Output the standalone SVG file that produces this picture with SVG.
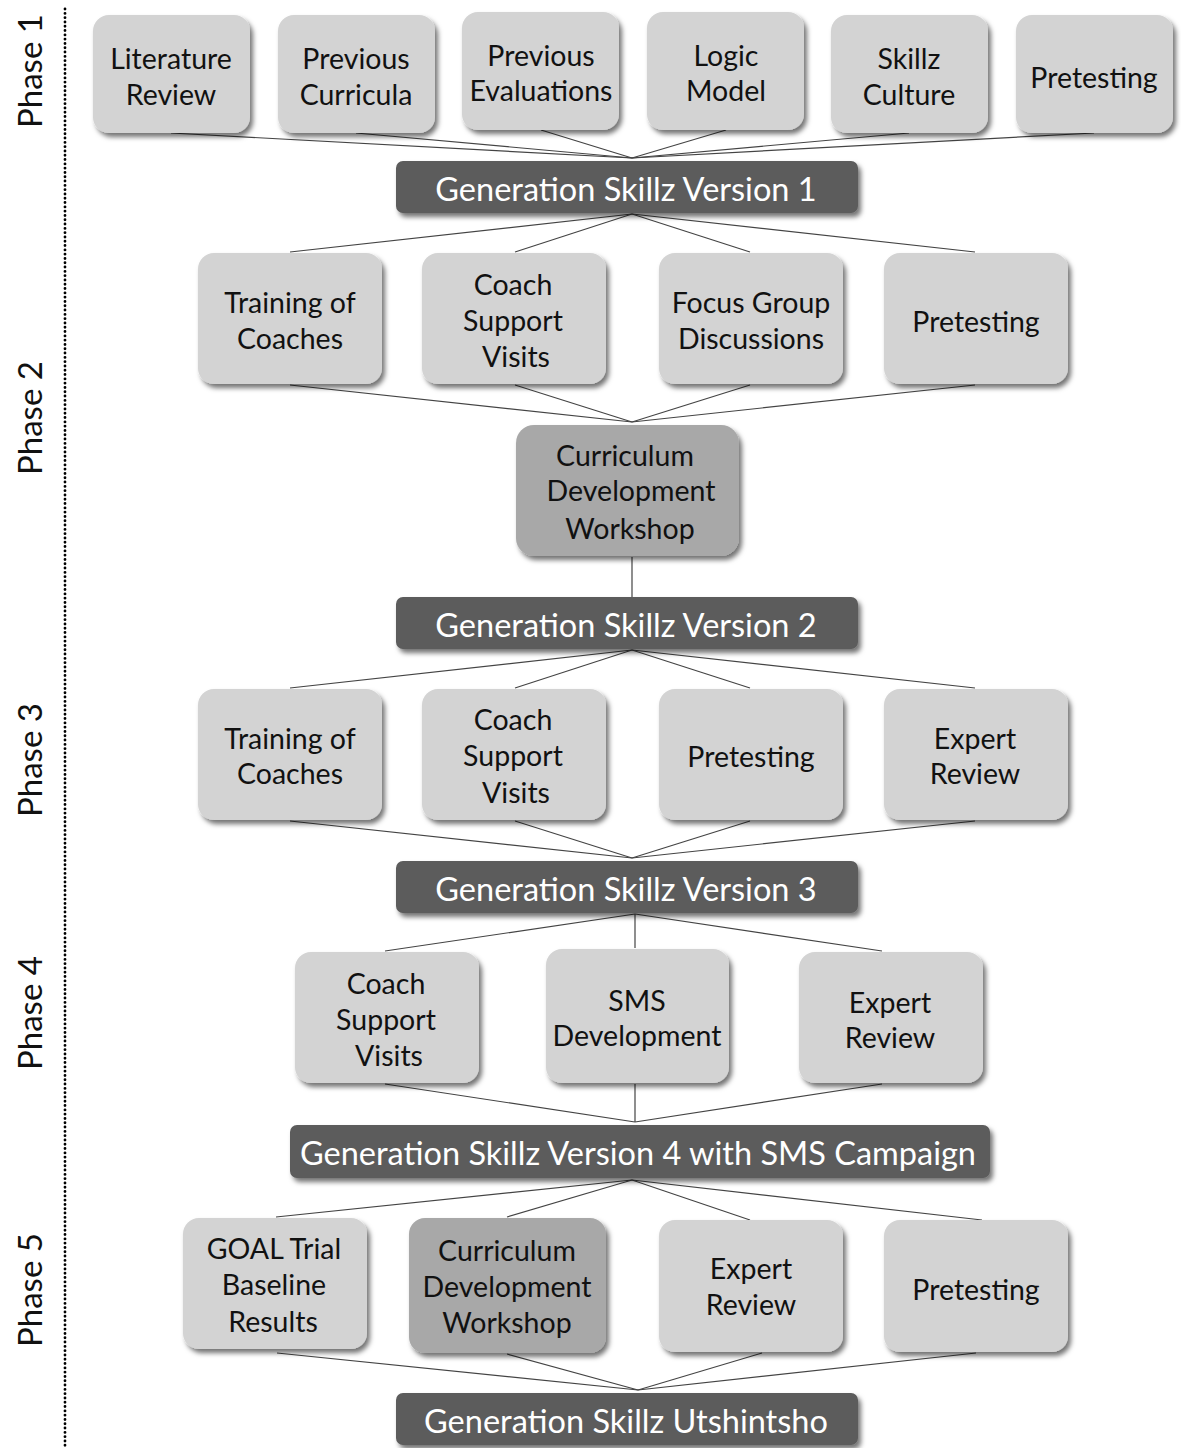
<svg xmlns="http://www.w3.org/2000/svg" width="1181" height="1448" viewBox="0 0 1181 1448">
<style>
.box{fill:#d3d3d3;filter:url(#sh)}
.dk{fill:#a8a8a8;filter:url(#sh)}
.bar{fill:#5b5b5b;filter:url(#sh)}
.t{font-family:Lato,"Open Sans","Liberation Sans",sans-serif;font-size:28.5px;fill:#111;text-anchor:middle}
.bt{font-family:Lato,"Open Sans","Liberation Sans",sans-serif;font-size:32.5px;fill:#fff;text-anchor:middle}
.ph{font-family:Lato,"Open Sans","Liberation Sans",sans-serif;font-size:33px;fill:#111;text-anchor:middle}
#conn line{stroke:#444;stroke-width:1.2}
</style>
<defs>
<filter id="sh" x="-10%" y="-10%" width="125%" height="130%">
<feDropShadow dx="3" dy="4" stdDeviation="2.5" flood-color="#000" flood-opacity="0.55"/>
</filter>
</defs>
<rect width="1181" height="1448" fill="#fff"/>
<line x1="65" y1="9" x2="65" y2="1448" stroke="#000" stroke-width="2.8" stroke-linecap="round" stroke-dasharray="0.1 4.2"/>
<g id="phases">
<text class="ph" transform="translate(42,71) rotate(-90)">Phase 1</text>
<text class="ph" transform="translate(42,418) rotate(-90)">Phase 2</text>
<text class="ph" transform="translate(42,760) rotate(-90)">Phase 3</text>
<text class="ph" transform="translate(42,1013) rotate(-90)">Phase 4</text>
<text class="ph" transform="translate(42,1290) rotate(-90)">Phase 5</text>
</g>
<g id="conn">
<line x1="171" y1="133" x2="632" y2="158"/>
<line x1="356" y1="133" x2="632" y2="158"/>
<line x1="541" y1="130" x2="632" y2="158"/>
<line x1="726" y1="130" x2="632" y2="158"/>
<line x1="909" y1="133" x2="632" y2="158"/>
<line x1="1094" y1="133" x2="632" y2="158"/>
<line x1="632" y1="214" x2="290" y2="252"/>
<line x1="632" y1="214" x2="515" y2="252"/>
<line x1="632" y1="214" x2="750" y2="252"/>
<line x1="632" y1="214" x2="975" y2="252"/>
<line x1="290" y1="385" x2="632" y2="422"/>
<line x1="515" y1="385" x2="632" y2="422"/>
<line x1="750" y1="385" x2="632" y2="422"/>
<line x1="975" y1="385" x2="632" y2="422"/>
<line x1="632" y1="557" x2="632" y2="597"/>
<line x1="632" y1="650" x2="290" y2="688"/>
<line x1="632" y1="650" x2="515" y2="688"/>
<line x1="632" y1="650" x2="750" y2="688"/>
<line x1="632" y1="650" x2="975" y2="688"/>
<line x1="290" y1="821" x2="632" y2="858"/>
<line x1="515" y1="821" x2="632" y2="858"/>
<line x1="750" y1="821" x2="632" y2="858"/>
<line x1="975" y1="821" x2="632" y2="858"/>
<line x1="635" y1="914" x2="385" y2="951"/>
<line x1="635" y1="914" x2="635" y2="948"/>
<line x1="635" y1="914" x2="882" y2="951"/>
<line x1="385" y1="1084" x2="635" y2="1122"/>
<line x1="635" y1="1084" x2="635" y2="1122"/>
<line x1="882" y1="1084" x2="635" y2="1122"/>
<line x1="632" y1="1180" x2="276" y2="1217"/>
<line x1="632" y1="1180" x2="507" y2="1217"/>
<line x1="632" y1="1180" x2="750" y2="1220"/>
<line x1="632" y1="1180" x2="982" y2="1220"/>
<line x1="277" y1="1353" x2="638" y2="1390"/>
<line x1="507" y1="1354" x2="638" y2="1390"/>
<line x1="762" y1="1353" x2="638" y2="1390"/>
<line x1="976" y1="1353" x2="638" y2="1390"/>
</g>
<g id="n-lit"><rect class="box" x="93" y="15" width="157" height="118" rx="16"/><text class="t" x="171" y="69">Literature</text><text class="t" x="171" y="105">Review</text></g>
<g id="n-prevcur"><rect class="box" x="278" y="15" width="157" height="118" rx="16"/><text class="t" x="356" y="69">Previous</text><text class="t" x="356" y="105">Curricula</text></g>
<g id="n-preveval"><rect class="box" x="462" y="12" width="157" height="118" rx="16"/><text class="t" x="541" y="66">Previous</text><text class="t" x="541" y="101">Evaluations</text></g>
<g id="n-logic"><rect class="box" x="647" y="12" width="157" height="118" rx="16"/><text class="t" x="726" y="66">Logic</text><text class="t" x="726" y="101">Model</text></g>
<g id="n-culture"><rect class="box" x="831" y="15" width="157" height="118" rx="16"/><text class="t" x="909" y="69">Skillz</text><text class="t" x="909" y="105">Culture</text></g>
<g id="n-pre1"><rect class="box" x="1016" y="15" width="157" height="118" rx="16"/><text class="t" x="1094" y="88">Pretesting</text></g>
<g id="n-v1"><rect class="bar" x="396" y="161" width="462" height="52" rx="7"/><text class="bt" x="626" y="201">Generation Skillz Version 1</text></g>
<g id="n-train2"><rect class="box" x="198" y="253" width="184" height="131" rx="16"/><text class="t" x="290" y="313">Training of</text><text class="t" x="290" y="349">Coaches</text></g>
<g id="n-coach2"><rect class="box" x="422" y="253" width="184" height="131" rx="16"/><text class="t" x="513" y="295">Coach</text><text class="t" x="513" y="331">Support</text><text class="t" x="516" y="367">Visits</text></g>
<g id="n-focus2"><rect class="box" x="659" y="253" width="184" height="131" rx="16"/><text class="t" x="751" y="313">Focus Group</text><text class="t" x="751" y="349">Discussions</text></g>
<g id="n-pre2"><rect class="box" x="884" y="253" width="184" height="131" rx="16"/><text class="t" x="976" y="332">Pretesting</text></g>
<g id="n-cdw1"><rect class="dk" x="516" y="425" width="223" height="131" rx="18"/><text class="t" x="625" y="466">Curriculum</text><text class="t" x="631" y="501">Development</text><text class="t" x="630" y="539">Workshop</text></g>
<g id="n-v2"><rect class="bar" x="396" y="597" width="462" height="52" rx="7"/><text class="bt" x="626" y="637">Generation Skillz Version 2</text></g>
<g id="n-train3"><rect class="box" x="198" y="689" width="184" height="131" rx="16"/><text class="t" x="290" y="749">Training of</text><text class="t" x="290" y="784">Coaches</text></g>
<g id="n-coach3"><rect class="box" x="422" y="689" width="184" height="131" rx="16"/><text class="t" x="513" y="730">Coach</text><text class="t" x="513" y="766">Support</text><text class="t" x="516" y="803">Visits</text></g>
<g id="n-pre3"><rect class="box" x="659" y="689" width="184" height="131" rx="16"/><text class="t" x="751" y="767">Pretesting</text></g>
<g id="n-exp3"><rect class="box" x="884" y="689" width="184" height="131" rx="16"/><text class="t" x="975" y="749">Expert</text><text class="t" x="975" y="784">Review</text></g>
<g id="n-v3"><rect class="bar" x="396" y="861" width="462" height="52" rx="7"/><text class="bt" x="626" y="901">Generation Skillz Version 3</text></g>
<g id="n-coach4"><rect class="box" x="295" y="952" width="184" height="131" rx="16"/><text class="t" x="386" y="994">Coach</text><text class="t" x="386" y="1030">Support</text><text class="t" x="389" y="1066">Visits</text></g>
<g id="n-sms4"><rect class="box" x="546" y="949" width="183" height="134" rx="16"/><text class="t" x="637" y="1011">SMS</text><text class="t" x="637" y="1046">Development</text></g>
<g id="n-exp4"><rect class="box" x="799" y="952" width="184" height="131" rx="16"/><text class="t" x="890" y="1013">Expert</text><text class="t" x="890" y="1048">Review</text></g>
<g id="n-v4"><rect class="bar" x="290" y="1125" width="700" height="53" rx="7"/><text class="bt" x="638" y="1165">Generation Skillz Version 4 with SMS Campaign</text></g>
<g id="n-goal5"><rect class="box" x="183" y="1218" width="184" height="131" rx="16"/><text class="t" x="274" y="1259">GOAL Trial</text><text class="t" x="274" y="1295">Baseline</text><text class="t" x="273" y="1332">Results</text></g>
<g id="n-cdw5"><rect class="dk" x="409" y="1218" width="197" height="135" rx="16"/><text class="t" x="507" y="1261">Curriculum</text><text class="t" x="507" y="1297">Development</text><text class="t" x="507" y="1333">Workshop</text></g>
<g id="n-exp5"><rect class="box" x="659" y="1220" width="184" height="132" rx="16"/><text class="t" x="751" y="1279">Expert</text><text class="t" x="751" y="1315">Review</text></g>
<g id="n-pre5"><rect class="box" x="884" y="1220" width="184" height="132" rx="16"/><text class="t" x="976" y="1300">Pretesting</text></g>
<g id="n-vu"><rect class="bar" x="396" y="1393" width="462" height="52" rx="7"/><text class="bt" x="626" y="1433">Generation Skillz Utshintsho</text></g>
</svg>
